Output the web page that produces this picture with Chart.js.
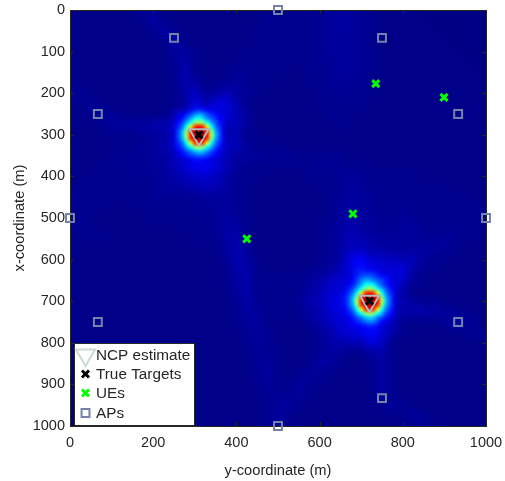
<!DOCTYPE html>
<html>
<head>
<meta charset="utf-8">
<script src="https://cdn.jsdelivr.net/npm/chart.js@4/dist/chart.umd.js"></script>
<style>
    body { margin: 0; background: white; }
</style>
</head>
<body>
<canvas id="ncpMap" width="505" height="481"></canvas>
<script>
// horizontal axis is the "y-coordinate", vertical one the "x-coordinate"
const apY = [500, 250, 750, 67, 933, 0, 1000, 67, 933, 500, 250, 750];
const apX = [0, 67, 67, 250, 250, 500, 500, 750, 750, 1000, 933, 933];
const ueY = [735, 899, 680, 425];
const ueX = [177, 210, 490, 550];
const targetY = [310, 720];
const targetX = [300, 700];
const ncpY = [310, 720];
const ncpX = [300, 700];

const xTicks = [0, 200, 400, 600, 800, 1000];
const yTicks = [0, 100, 200, 300, 400, 500, 600, 700, 800, 900, 1000];

// NCP map, 0-100, one node every 25 m
const heatStep = 25;
const heatRows = [
    [2,2,2,2,2,2,3,5,3,2, 2,2,2,2,2,2,2,2,2,3, 3,3,3,3,4,5,5,5,4,3, 2,2,2,2,2,1,1,1,1,1,1],
    [2,2,2,2,2,2,2,3,6,3, 2,2,2,2,2,2,2,2,2,3, 3,3,3,3,4,5,6,5,4,3, 2,2,2,2,2,1,1,1,1,1,1],
    [2,2,2,2,2,2,2,2,3,6, 4,2,2,2,2,2,2,2,3,3, 3,3,3,3,4,5,6,5,4,3, 2,2,2,2,2,2,1,1,1,1,1],
    [2,2,2,2,2,2,2,2,2,3, 7,3,2,2,2,2,2,2,3,3, 3,3,3,3,4,5,5,5,4,3, 2,2,2,2,2,2,2,1,1,1,1],
    [2,2,2,2,2,2,2,2,2,2, 5,6,3,2,2,2,2,3,3,3, 3,3,3,3,4,5,5,5,4,3, 2,2,2,2,2,2,2,2,1,1,1],
    [2,2,2,2,2,2,2,2,2,2, 4,7,3,2,2,2,3,3,3,3, 3,3,3,3,4,4,5,5,4,3, 2,2,2,2,2,2,2,2,2,1,1],
    [2,2,2,2,2,2,2,2,2,2, 3,8,4,2,2,3,4,4,3,3, 3,2,2,3,3,4,5,5,4,3, 2,2,2,2,2,2,2,2,2,2,1],
    [3,2,2,2,2,2,2,2,2,2, 3,7,6,3,3,4,5,4,3,3, 2,2,2,3,3,4,4,4,4,3, 2,2,2,2,2,2,2,2,2,2,2],
    [3,4,2,2,2,2,2,2,2,2, 3,6,11,5,6,9,6,4,3,2, 2,2,2,2,3,3,4,4,3,3, 2,2,2,2,2,2,2,2,2,2,2],
    [2,3,4,3,2,2,2,2,2,2, 3,5,13,9,13,13,8,3,2,2, 2,2,2,2,3,3,3,3,3,2, 2,2,2,2,2,2,3,2,2,2,2],
    [2,2,3,5,4,3,2,2,2,3, 4,7,22,18,13,13,9,5,2,2, 2,2,2,2,2,3,3,3,2,2, 2,2,2,2,2,2,2,2,3,2,2],
    [2,2,2,3,5,5,6,6,7,8, 10,22,45,35,16,9,9,5,2,2, 2,2,2,2,2,2,3,2,2,2, 2,2,2,2,2,2,2,2,2,2,2],
    [2,2,2,2,3,3,3,4,5,6, 10,28,85,55,14,8,8,3,3,2, 2,2,2,2,2,2,2,2,2,2, 2,2,2,2,2,2,2,2,2,2,2],
    [2,2,2,2,2,3,3,4,5,7, 11,22,40,35,15,9,9,5,3,3, 3,2,2,2,2,2,2,2,2,2, 2,2,2,2,2,2,2,2,2,2,2],
    [2,2,2,2,3,3,4,4,5,6, 8,12,16,16,12,9,6,5,5,4, 4,4,3,3,3,3,3,2,2,2, 2,2,2,2,2,2,2,2,2,2,2],
    [2,2,2,3,3,3,4,4,5,5, 9,12,16,16,13,9,5,4,3,3, 3,3,3,3,4,4,4,3,3,3, 2,2,2,2,2,2,2,2,2,2,2],
    [2,2,3,3,3,3,3,4,4,5, 7,9,11,12,10,7,4,3,3,2, 2,2,2,3,3,3,4,5,4,3, 3,3,3,3,2,2,2,2,2,2,2],
    [2,3,3,3,3,3,3,3,4,5, 6,6,8,9,8,6,4,3,2,2, 2,2,2,2,3,3,4,5,5,3, 3,3,3,3,3,3,3,2,2,2,2],
    [3,3,3,3,3,3,3,3,4,4, 4,4,4,5,5,5,4,3,2,2, 2,2,2,2,2,3,4,6,5,4, 3,3,3,3,3,3,3,3,3,2,2],
    [3,3,3,3,2,2,2,3,3,3, 3,3,4,4,5,5,4,3,2,2, 2,2,2,2,2,3,5,6,5,4, 3,3,4,3,3,3,3,3,3,3,3],
    [4,3,2,2,2,2,2,2,3,3, 3,3,3,4,4,6,5,3,2,2, 2,2,2,2,3,3,5,7,5,5, 4,3,5,4,3,3,3,3,3,3,4],
    [3,3,3,2,2,2,2,2,2,2, 2,3,3,3,4,6,6,3,2,2, 2,2,2,2,3,4,6,8,6,5, 4,4,5,5,4,3,3,3,3,3,3],
    [2,2,3,3,2,2,2,2,2,2, 2,2,3,3,3,6,7,4,2,2, 2,2,2,2,3,4,6,9,8,6, 5,5,5,5,4,4,5,4,3,2,2],
    [2,2,2,2,2,2,2,2,2,2, 2,2,2,2,3,5,8,5,2,2, 2,2,2,2,3,4,6,10,10,7, 7,6,5,6,6,5,4,3,2,2,2],
    [2,2,2,2,2,2,2,2,2,2, 2,2,2,2,2,4,8,6,3,2, 2,2,2,2,3,4,7,14,17,12, 11,10,9,8,5,3,3,2,2,2,2],
    [2,2,2,2,2,2,2,2,2,2, 2,2,2,2,2,3,7,7,3,2, 2,2,2,3,4,6,9,14,20,16, 13,13,13,7,3,3,2,2,2,2,2],
    [2,2,2,2,2,2,2,2,2,2, 2,2,2,2,2,3,6,7,3,3, 3,3,3,5,7,10,12,16,30,35, 18,14,11,4,3,2,2,2,2,2,2],
    [2,2,2,2,2,2,2,2,2,2, 2,2,2,2,2,2,5,7,4,3, 3,3,3,6,8,12,13,20,45,60, 30,13,7,3,2,2,2,2,2,2,2],
    [2,2,2,2,2,2,2,2,2,2, 2,2,2,2,2,2,4,6,4,3, 3,3,4,7,9,13,15,26,80,85, 35,10,8,5,4,3,2,2,2,2,2],
    [2,2,2,2,2,2,2,2,2,2, 2,2,2,2,2,2,3,6,5,3, 3,3,3,6,8,12,14,18,42,50, 24,11,7,7,7,6,5,4,3,2,2],
    [2,2,2,2,2,2,2,2,2,2, 2,2,2,2,2,2,3,5,5,3, 2,2,2,5,7,10,13,15,18,20, 14,8,4,3,3,3,4,6,5,3,2],
    [2,2,2,2,2,2,2,2,2,2, 2,2,2,2,2,2,2,4,5,4, 2,2,2,2,5,7,11,13,15,18, 13,7,3,2,2,2,2,2,3,4,3],
    [2,2,2,2,2,2,2,2,2,2, 2,2,2,2,2,2,2,3,5,4, 2,2,2,2,4,6,8,8,9,13, 10,3,2,2,2,2,2,2,2,2,4],
    [2,2,2,2,2,2,2,2,2,2, 2,2,2,2,2,2,2,3,4,4, 3,2,2,3,4,6,5,3,3,6, 7,3,2,2,2,2,2,2,2,2,3],
    [2,2,2,2,2,2,2,2,2,2, 2,2,2,2,2,2,2,2,4,5, 3,2,2,3,6,5,3,2,2,4, 6,3,2,2,2,2,2,2,2,2,2],
    [2,2,2,2,2,2,2,2,2,2, 2,2,2,2,2,2,2,2,4,5, 3,2,3,5,4,3,2,2,2,3, 6,3,2,2,2,2,2,2,2,2,2],
    [2,2,2,2,2,2,2,2,2,2, 2,2,2,2,2,2,2,2,3,5, 3,3,5,4,3,2,2,2,2,3, 6,3,2,2,2,2,2,2,2,2,2],
    [2,2,2,2,2,2,2,2,2,2, 2,2,2,2,2,2,2,2,3,4, 4,4,5,3,2,2,2,2,2,2, 6,3,2,2,2,2,2,2,2,2,2],
    [2,2,2,2,2,2,2,2,2,2, 2,2,2,2,2,2,2,2,2,3, 5,5,3,2,2,2,2,2,2,2, 3,5,3,2,2,2,2,2,2,2,2],
    [2,2,2,2,2,2,2,2,2,2, 2,2,2,2,2,2,2,2,2,3, 6,3,2,2,2,2,2,2,2,2, 2,3,3,5,3,2,2,2,2,2,2],
    [2,2,2,2,2,2,2,2,2,2, 2,2,2,2,2,2,2,2,2,3, 6,3,2,2,2,2,2,2,2,2, 2,2,2,3,5,3,2,2,2,2,2]
];

// finer nodes around the two peaks, one every 10 m
const peakStep = 10;
const peakAStart = [240, 230];
const peakARows = [
    [6,7,8,9,11,13,17,20,17,14,13,13,12,10,8],
    [7,8,10,12,14,17,21,25,22,18,17,16,14,11,9],
    [8,10,12,15,20,25,31,35,31,26,22,19,16,13,10],
    [9,11,15,19,27,34,42,46,40,32,27,22,17,14,11],
    [10,13,18,25,35,44,55,60,55,44,35,26,20,15,12],
    [11,15,21,30,44,64,84,88,84,64,44,30,22,16,12],
    [12,16,24,36,55,84,93,96,93,84,55,36,24,17,13],
    [12,16,25,38,60,88,96,100,96,88,60,38,25,17,13],
    [12,16,24,36,55,84,93,96,93,84,55,36,24,17,12],
    [11,15,22,30,44,64,84,88,84,64,44,30,22,16,12],
    [10,13,19,25,35,44,55,60,55,44,35,25,19,14,11],
    [9,12,15,20,26,31,37,40,38,32,26,20,15,12,10],
    [8,11,13,16,20,24,26,28,27,24,20,16,13,11,9],
    [7,9,11,13,15,18,20,21,20,18,15,13,11,9,8],
    [6,8,9,11,12,14,16,17,16,14,12,10,9,8,7]
];
const peakBStart = [650, 630];
const peakBRows = [
    [7,8,10,13,17,20,21,19,16,16,16,15,12,9,7],
    [8,10,12,15,20,25,27,26,23,22,21,19,14,11,8],
    [9,11,14,18,24,31,35,35,31,28,24,20,16,12,9],
    [10,13,16,21,28,36,44,46,42,33,27,21,17,13,10],
    [12,15,20,26,35,44,55,60,55,44,35,26,20,15,12],
    [14,17,23,31,44,64,84,88,84,64,44,31,23,17,13],
    [15,19,26,37,55,84,93,96,93,84,55,36,25,18,14],
    [15,19,27,39,60,88,96,100,96,88,60,38,26,18,14],
    [14,18,26,36,55,84,93,96,93,84,55,36,25,18,15],
    [13,16,23,30,44,64,84,88,84,64,44,30,22,16,13],
    [12,15,19,25,35,44,55,60,55,44,35,25,19,14,11],
    [10,13,16,20,26,31,37,40,38,30,25,19,14,11,9],
    [9,12,15,18,21,24,28,31,29,24,18,14,11,9,8],
    [8,11,13,15,17,19,22,25,24,19,14,11,9,8,7],
    [7,9,11,12,13,15,18,21,20,15,11,9,8,7,6]
];

function jet(v) {
    const t = Math.pow(v / 100, 1.2);
    const ramp = (d) => Math.max(0, Math.min(1, 1.5 - Math.abs(4 * t - d)));
    return [ramp(3) * 255, ramp(2) * 255, ramp(1) * 255];
}

// turn a block of nodes into a tiny image, the browser smooths it when scaled up
function rowsToImage(rows, feather) {
    const h = rows.length;
    const w = rows[0].length;
    const img = document.createElement("canvas");
    img.width = w;
    img.height = h;
    const ictx = img.getContext("2d");
    const pix = ictx.createImageData(w, h);
    for (let r = 0; r < h; r++) {
        for (let c = 0; c < w; c++) {
            const col = jet(rows[r][c]);
            const i = (r * w + c) * 4;
            pix.data[i] = col[0];
            pix.data[i + 1] = col[1];
            pix.data[i + 2] = col[2];
            const edge = Math.min(r, c, h - 1 - r, w - 1 - c);
            pix.data[i + 3] = feather ? Math.min(255, edge * 128) : 255;
        }
    }
    ictx.putImageData(pix, 0, 0);
    return img;
}

function drawBlock(chart, img, startX, startY, step) {
    const sx = chart.scales.x;
    const sy = chart.scales.y;
    const x0 = sx.getPixelForValue(startX - step / 2);
    const x1 = sx.getPixelForValue(startX + (img.width - 0.5) * step);
    const y0 = sy.getPixelForValue(startY - step / 2);
    const y1 = sy.getPixelForValue(startY + (img.height - 0.5) * step);
    chart.ctx.drawImage(img, x0, y0, x1 - x0, y1 - y0);
}

const heatImage = rowsToImage(heatRows, false);
const peakAImage = rowsToImage(peakARows, true);
const peakBImage = rowsToImage(peakBRows, true);
const axisColor = "#262626";

const heatPlugin = {
    id: "heatPlugin",
    beforeDatasetsDraw(chart) {
        const ctx = chart.ctx;
        const area = chart.chartArea;
        const sx = chart.scales.x;
        const sy = chart.scales.y;
        ctx.save();
        ctx.beginPath();
        ctx.rect(area.left, area.top, area.width, area.height);
        ctx.clip();
        ctx.imageSmoothingEnabled = true;
        ctx.imageSmoothingQuality = "high";
        drawBlock(chart, heatImage, 0, 0, heatStep);
        drawBlock(chart, peakAImage, peakAStart[0], peakAStart[1], peakStep);
        drawBlock(chart, peakBImage, peakBStart[0], peakBStart[1], peakStep);
        ctx.restore();

        // matlab style box with inward ticks on all four sides
        ctx.save();
        ctx.strokeStyle = axisColor;
        ctx.lineWidth = 1;
        ctx.strokeRect(area.left + 0.5, area.top + 0.5, area.width, area.height);
        ctx.beginPath();
        xTicks.forEach(function (t) {
            const p = Math.round(sx.getPixelForValue(t)) + 0.5;
            ctx.moveTo(p, area.bottom);
            ctx.lineTo(p, area.bottom - 4);
            ctx.moveTo(p, area.top);
            ctx.lineTo(p, area.top + 4);
        });
        yTicks.forEach(function (t) {
            const p = Math.round(sy.getPixelForValue(t)) + 0.5;
            ctx.moveTo(area.left, p);
            ctx.lineTo(area.left + 4, p);
            ctx.moveTo(area.right, p);
            ctx.lineTo(area.right - 4, p);
        });
        ctx.stroke();
        ctx.restore();
    }
};

const legendSpots = [
    { y: 355, color: "#c9dccf", radius: 11, width: 2 },
    { y: 374, radius: 5 },
    { y: 393, radius: 5 },
    { y: 413, radius: 5.6 }
];

const boxLegendPlugin = {
    id: "boxLegendPlugin",
    afterDraw(chart) {
        const ctx = chart.ctx;
        ctx.save();
        ctx.fillStyle = "white";
        ctx.strokeStyle = axisColor;
        ctx.lineWidth = 1;
        ctx.fillRect(74.5, 343.5, 120, 82);
        ctx.strokeRect(74.5, 343.5, 120, 82);
        ctx.font = "15.3px 'Liberation Sans'";
        ctx.textBaseline = "middle";
        chart.data.datasets.forEach(function (ds, i) {
            const spot = legendSpots[i];
            ctx.strokeStyle = spot.color || ds.pointBorderColor;
            ctx.fillStyle = "transparent";
            ctx.lineWidth = spot.width || ds.pointBorderWidth;
            Chart.helpers.drawPoint(ctx, {
                pointStyle: ds.pointStyle,
                rotation: ds.pointRotation || 0,
                radius: spot.radius,
                borderWidth: ctx.lineWidth
            }, 85.5, spot.y);
            ctx.fillStyle = axisColor;
            ctx.fillText(ds.label, 96, spot.y + 1);
        });
        ctx.restore();
    }
};

function toPoints(xs, ys) {
    return xs.map(function (v, i) {
        return { x: v, y: ys[i] };
    });
}

// labels may stick out of the box, the axis must still span the whole plot area
function dropLabelPadding(scale) {
    scale.paddingLeft = scale.paddingRight = scale.paddingTop = scale.paddingBottom = 0;
    scale._margins = { left: 0, right: 0, top: 0, bottom: 0 };
}

const ctx = document.getElementById("ncpMap").getContext("2d");

new Chart(ctx, {
    type: "scatter",
    data: {
        datasets: [
            {
                label: "NCP estimate",
                data: toPoints(ncpY, ncpX),
                pointStyle: "triangle",
                pointRotation: 180,
                pointRadius: 11,
                pointBackgroundColor: "transparent",
                pointBorderColor: "#b4b8b6",
                pointBorderWidth: 2,
                order: 3,
                clip: false
            },
            {
                label: "True Targets",
                data: toPoints(targetY, targetX),
                pointStyle: "crossRot",
                pointRadius: 5,
                pointBorderColor: "#000000",
                pointBorderWidth: 3,
                order: 2,
                clip: false
            },
            {
                label: "UEs",
                data: toPoints(ueY, ueX),
                pointStyle: "crossRot",
                pointRadius: 5,
                pointBorderColor: "#00ff00",
                pointBorderWidth: 3,
                order: 1,
                clip: false
            },
            {
                label: "APs",
                data: toPoints(apY, apX),
                pointStyle: "rect",
                pointRadius: 5.6,
                pointBackgroundColor: "transparent",
                pointBorderColor: "#7483ab",
                pointBorderWidth: 2,
                order: 0,
                clip: false
            }
        ]
    },
    options: {
        responsive: false,
        animation: false,
        layout: { autoPadding: false, padding: { top: 10, right: 19 } },
        plugins: {
            legend: { display: false },
            tooltip: { enabled: false }
        },
        scales: {
            x: {
                type: "linear",
                min: 0,
                max: 1000,
                afterFit(scale) {
                    scale.height = 55;
                    dropLabelPadding(scale);
                },
                afterBuildTicks(scale) { scale.ticks = xTicks.map((v) => ({ value: v })); },
                grid: { display: false, drawTicks: false },
                border: { display: false },
                ticks: { color: axisColor, padding: 8, maxRotation: 0, font: { family: "Liberation Sans", size: 14.5 }, callback: (v) => String(v) },
                title: {
                    display: true,
                    text: "y-coordinate (m)",
                    color: axisColor,
                    font: { family: "Liberation Sans", size: 14.7 },
                    padding: { top: 0, bottom: 1 }
                }
            },
            y: {
                type: "linear",
                min: 0,
                max: 1000,
                reverse: true,
                afterFit(scale) {
                    scale.width = 70;
                    dropLabelPadding(scale);
                },
                afterBuildTicks(scale) { scale.ticks = yTicks.map((v) => ({ value: v })); },
                grid: { display: false, drawTicks: false },
                border: { display: false },
                ticks: { color: axisColor, padding: 5, font: { family: "Liberation Sans", size: 14.5 }, callback: (v) => String(v) },
                title: {
                    display: true,
                    text: "x-coordinate (m)",
                    color: axisColor,
                    font: { family: "Liberation Sans", size: 14.7 },
                    padding: { top: 11, bottom: 0 }
                }
            }
        }
    },
    plugins: [heatPlugin, boxLegendPlugin]
});
</script>
</body>
</html>
